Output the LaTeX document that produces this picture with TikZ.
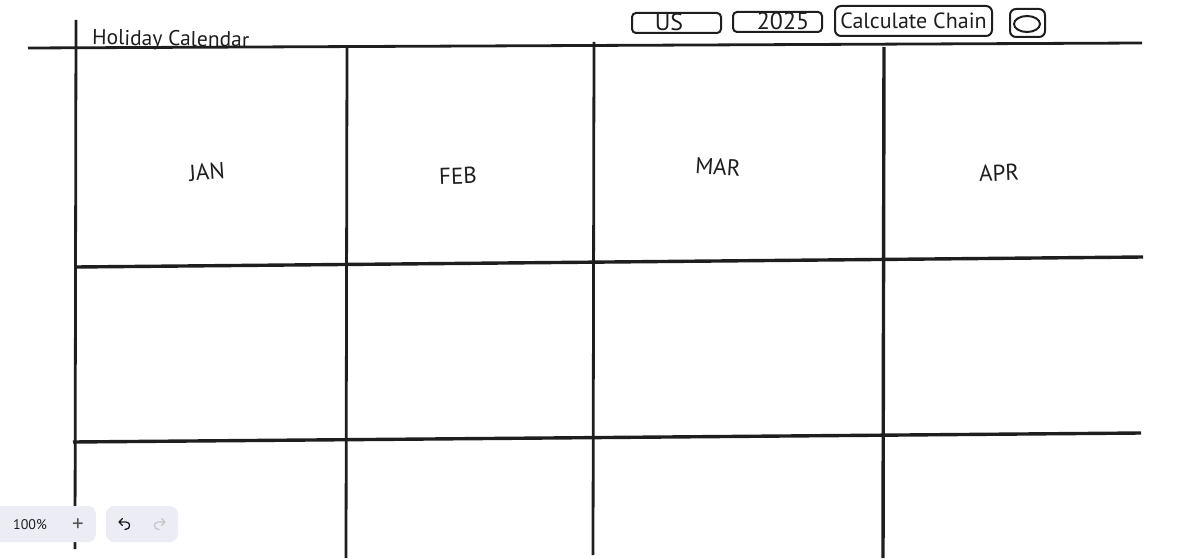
\documentclass[tikz,border=0pt]{standalone}
\usepackage{fontspec}
\setmainfont{PT Sans}
\usetikzlibrary{shapes.geometric}
\definecolor{ink}{HTML}{1E1E1E}
\definecolor{barfill}{HTML}{ECECF4}
\tikzset{
  gridline/.style={draw=ink,line width=2.8pt},
  month/.style={font=\fontsize{23}{27}\selectfont,text=ink,inner sep=0pt},
  inputbox/.style={draw=ink,line width=2pt,rounded corners=4pt,inner sep=0pt,minimum height=20pt,minimum width=89pt},
  bartext/.style={inner sep=0pt,text=ink},
  barbox/.style={fill=barfill,rounded corners=8pt,inner sep=0pt,minimum height=36pt},
}
\begin{document}
\begin{tikzpicture}[x=1pt,y=-1pt]
\useasboundingbox (0,0) rectangle (1178,559);

% grid end points
\coordinate (v1a) at (76,20);   \coordinate (v1b) at (75,549);
\coordinate (v2a) at (347,47);  \coordinate (v2b) at (346,558);
\coordinate (v3a) at (594,42);  \coordinate (v3b) at (593,555);
\coordinate (v4a) at (884,47);  \coordinate (v4b) at (883,558);
\coordinate (h1a) at (28,48);   \coordinate (h1b) at (1142,43);
\coordinate (h2a) at (76,267);  \coordinate (h2b) at (1143,257);
\coordinate (h3a) at (73,442);  \coordinate (h3b) at (1141,433);

\path[gridline] (v1a) -- (v1b);
\path[gridline] (v2a) -- (v2b);
\path[gridline] (v3a) -- (v3b);
\path[gridline,line width=3.4pt] (v4a) -- (v4b);
\path[gridline] (h1a) -- (h1b);
\path[gridline,line width=3.4pt] (h2a) -- (h2b);
\path[gridline,line width=3.4pt] (h3a) -- (h3b);

\node[month,anchor=west,rotate=-1,font=\fontsize{21.5}{25}\selectfont] (title) at (92,39) {Holiday Calendar};

\node[month,rotate=4] (jan) at (207,172) {JAN};
\node[month,rotate=2] (feb) at (458,176) {FEB};
\node[month,rotate=-4] (mar) at (718,167) {MAR};
\node[month,rotate=2] (apr) at (999,173) {APR};

% top bar
\node[inputbox] (country) at (676.5,23) {};
\node[month,font=\fontsize{24}{28}\selectfont] (countrytext) at (669,22.5) {US};
\node[inputbox] (year) at (777.5,22) {};
\node[month,font=\fontsize{24}{28}\selectfont] (yeartext) at (783,21.5) {2025};
\node[inputbox,minimum width=157pt,minimum height=30pt,rounded corners=6pt,font=\fontsize{22}{26}\selectfont,text=ink] (calc) at (913.5,21) {Calculate Chain};
\node[inputbox,minimum width=35pt,minimum height=28pt,rounded corners=6pt] (iconbox) at (1027.5,23) {};
\node[draw=ink,line width=2pt,ellipse,minimum width=26pt,minimum height=16pt,inner sep=0pt] (iconring) at (1027,24) {};

% zoom and undo
\node[barbox,minimum width=106pt] (zoombar) at (43,524) {};
\node[barbox,minimum width=72pt] (undobar) at (142,524) {};
\node[bartext,font=\fontsize{14}{16}\selectfont] (zoomtext) at (30,525) {100\%};
\node[bartext,font=\fontsize{23}{25}\selectfont,text=ink!75] (plus) at (78,525.5) {+};
\draw[ink,line width=1.3pt,line cap=round,line join=round]
  (122.5,518.5) -- (119,522) -- (122.5,525.5) (119,522) -- (126,522) .. controls (131,522) and (131,529.5) .. (125,529.5);
\draw[ink!25,line width=1.3pt,line cap=round,line join=round]
  (161.5,518.5) -- (165,522) -- (161.5,525.5) (165,522) -- (158,522) .. controls (153,522) and (153,529.5) .. (159,529.5);
\end{tikzpicture}
\end{document}
